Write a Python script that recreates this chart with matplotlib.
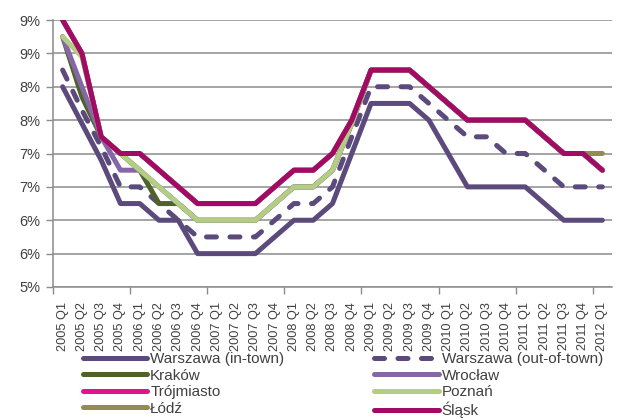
import matplotlib.pyplot as plt
from matplotlib.lines import Line2D

plt.rcParams['font.family'] = ['Liberation Sans', 'DejaVu Sans']

quarters = ['2005 Q1', '2005 Q2', '2005 Q3', '2005 Q4',
            '2006 Q1', '2006 Q2', '2006 Q3', '2006 Q4',
            '2007 Q1', '2007 Q2', '2007 Q3', '2007 Q4',
            '2008 Q1', '2008 Q2', '2008 Q3', '2008 Q4',
            '2009 Q1', '2009 Q2', '2009 Q3', '2009 Q4',
            '2010 Q1', '2010 Q2', '2010 Q3', '2010 Q4',
            '2011 Q1', '2011 Q2', '2011 Q3', '2011 Q4',
            '2012 Q1']

warszawa_in = [8.0, 7.45, 6.9, 6.25, 6.25, 6.0, 6.0, 5.5, 5.5, 5.5, 5.5, 5.75, 6.0, 6.0, 6.25,
               7.0, 7.75, 7.75, 7.75, 7.5, 7.0, 6.5, 6.5, 6.5, 6.5, 6.25, 6.0, 6.0, 6.0]
warszawa_out = [8.25, 7.65, 7.1, 6.5, 6.5, 6.25, 6.0, 5.75, 5.75, 5.75, 5.75, 6.0, 6.25, 6.25, 6.5,
                7.25, 8.0, 8.0, 8.0, 7.75, 7.5, 7.25, 7.25, 7.0, 7.0, 6.75, 6.5, 6.5, 6.5]
krakow = [8.75, 7.85, 7.25, 7.0, 6.75, 6.25, 6.25, 6.0, 6.0, 6.0, 6.0, 6.25, 6.5, 6.5, 6.75,
          7.45, 8.25, 8.25, 8.25, 8.0, 7.75, 7.5, 7.5, 7.5, 7.5, 7.25, 7.0, 7.0, 6.75]
wroclaw = [8.75, 8.0, 7.25, 6.75, 6.75, 6.5, 6.25, 6.0, 6.0, 6.0, 6.0, 6.25, 6.5, 6.5, 6.75,
           7.45, 8.25, 8.25, 8.25, 8.0, 7.75, 7.5, 7.5, 7.5, 7.5, 7.25, 7.0, 7.0, 6.75]
trojmiasto = [9.0, 8.5, 7.25, 7.0, 7.0, 6.75, 6.5, 6.25, 6.25, 6.25, 6.25, 6.5, 6.75, 6.75, 7.0,
              7.5, 8.25, 8.25, 8.25, 8.0, 7.75, 7.5, 7.5, 7.5, 7.5, 7.25, 7.0, 7.0, 6.75]
poznan = [8.75, 8.45, 7.25, 7.0, 6.75, 6.5, 6.25, 6.0, 6.0, 6.0, 6.0, 6.25, 6.5, 6.5, 6.75,
          7.45, 8.25, 8.25, 8.25, 8.0, 7.75, 7.5, 7.5, 7.5, 7.5, 7.25, 7.0, 7.0, 6.75]
lodz = [9.0, 8.5, 7.25, 7.0, 7.0, 6.75, 6.5, 6.25, 6.25, 6.25, 6.25, 6.5, 6.75, 6.75, 7.0,
        7.5, 8.25, 8.25, 8.25, 8.0, 7.75, 7.5, 7.5, 7.5, 7.5, 7.25, 7.0, 7.0, 7.0]
slask = [9.0, 8.5, 7.25, 7.0, 7.0, 6.75, 6.5, 6.25, 6.25, 6.25, 6.25, 6.5, 6.75, 6.75, 7.0,
         7.5, 8.25, 8.25, 8.25, 8.0, 7.75, 7.5, 7.5, 7.5, 7.5, 7.25, 7.0, 7.0, 6.75]

y_ticks = [5.0, 5.5, 6.0, 6.5, 7.0, 7.5, 8.0, 8.5, 9.0]
y_labels = ['5%', '6%', '6%', '7%', '7%', '8%', '8%', '9%', '9%']

series = [
    ('Warszawa (in-town)', warszawa_in, '#5b4a7b', '-'),
    ('Warszawa (out-of-town)', warszawa_out, '#5b4a7b', (0, (2.0, 2.7))),
    ('Kraków', krakow, '#4f6228', '-'),
    ('Wrocław', wroclaw, '#8567a8', '-'),
    ('Trójmiasto', trojmiasto, '#e0128c', '-'),
    ('Poznań', poznan, '#b3cd83', '-'),
    ('Łódź', lodz, '#948a54', '-'),
    ('Śląsk', slask, '#a10b66', '-'),
]

lw = 3.6
text_color = '#404040'
grid_color = '#8c8c8c'

fig = plt.figure(figsize=(6.21, 4.2), dpi=100)
ax = fig.add_axes([53 / 621, 1 - 287 / 420, (612 - 53) / 621, (287 - 20) / 420])

x = list(range(len(quarters)))
handles = {}
for name, vals, color, ls in series:
    ax.plot(x, vals, color=color, linestyle=ls, linewidth=lw,
            solid_joinstyle='round', solid_capstyle='round',
            dash_capstyle='round', dash_joinstyle='round')
    handles[name] = Line2D([], [], color=color, linestyle=ls, linewidth=lw,
                           solid_capstyle='round', dash_capstyle='round')

ax.set_xlim(-0.5, len(quarters) - 0.5)
ax.set_ylim(5, 9)
ax.set_yticks(y_ticks)
ax.set_yticklabels(y_labels)
ax.set_xticks(x)
ax.set_xticklabels(quarters, rotation=90)
ax.set_xticks([i - 0.5 for i in range(0, len(quarters), 4)], minor=True)

ax.tick_params(axis='x', which='major', length=0, pad=11, labelsize=9.2, colors=text_color)
ax.tick_params(axis='x', which='minor', length=5, width=1, color=grid_color, direction='out')
ax.tick_params(axis='y', length=5, width=1, color=grid_color, pad=4, labelsize=10.5,
               labelcolor=text_color)

ax.grid(axis='y', color=grid_color, linewidth=1.1)
ax.set_axisbelow(True)
for side in ['top', 'right']:
    ax.spines[side].set_visible(False)
for side in ['left', 'bottom']:
    ax.spines[side].set_color(grid_color)
    ax.spines[side].set_linewidth(1.1)

order = ['Warszawa (in-town)', 'Kraków', 'Trójmiasto', 'Łódź',
         'Warszawa (out-of-town)', 'Wrocław', 'Poznań', 'Śląsk']
fig.legend([handles[n] for n in order], order, ncol=2, frameon=False,
           loc='upper left', bbox_to_anchor=(83 / 621, 1 - 352 / 420),
           borderaxespad=0, borderpad=0, fontsize=11, handlelength=4.2,
           handletextpad=0.2, columnspacing=5.9, labelspacing=0.17,
           labelcolor=text_color)

fig.savefig('out.png', dpi=100)
